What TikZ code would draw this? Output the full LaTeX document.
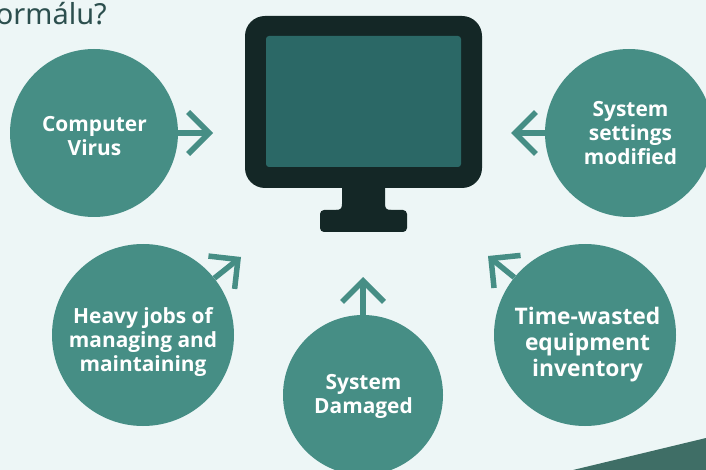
\documentclass[tikz,border=0pt]{standalone}
\usepackage{fontspec}
\setmainfont{Noto Sans}
\newfontfamily\bubblefont{Open Sans}[BoldFont={* Bold}]
\usetikzlibrary{arrows.meta}
\definecolor{bgc}{HTML}{EDF6F6}
\definecolor{teal1}{HTML}{468E85}
\definecolor{dark1}{HTML}{142726}
\definecolor{screen1}{HTML}{2B6866}
\definecolor{corner1}{HTML}{3F6E66}
\definecolor{title1}{HTML}{2C4F4E}
\tikzset{
  bubble/.style={circle,fill=teal1,inner sep=0pt},
  bubbletext/.style={text=white,inner sep=0pt,align=center,font=\bubblefont\bfseries\fontsize{20.9}{24}\selectfont},
  bigtext/.style={text=white,inner sep=0pt,align=center,font=\bubblefont\bfseries\fontsize{22.8}{26}\selectfont},
  link/.style={draw=teal1,line width=5.5pt,-{Straight Barb[length=21pt,width=42pt,line width=5.5pt]}}
}
\begin{document}
\begin{tikzpicture}[x=1pt,y=-1pt]
\useasboundingbox (0,0) rectangle (706,470);
\fill[bgc] (0,0) rectangle (706,470);
\fill[corner1] (573,470) -- (706,438) -- (706,470) -- cycle;
\node[anchor=base east,text=title1,font=\fontsize{29}{32}\selectfont,inner sep=0pt] (title) at (107,25) {ormálu?};
% monitor
\fill[dark1,rounded corners=20pt] (245,16) rectangle (482,188);
\fill[dark1] (342,180) -- (342,204) .. controls (342,209) and (340,210) .. (336,210)
  -- (391,210) .. controls (387,210) and (385,209) .. (385,204) -- (385,180) -- cycle;
\fill[dark1,rounded corners=4pt] (320,210) rectangle (407,232);
\node[fill=screen1,rounded corners=3pt,minimum width=195pt,minimum height=131pt,inner sep=0pt] (screen) at (363.5,101.5) {};
% arrow ends
\coordinate (t1) at (213,133);
\coordinate (t2) at (511,133);
\coordinate (t3) at (241,257);
\coordinate (t4) at (363,277);
\coordinate (t5) at (488,256);
% circles
\node[bubble,minimum size=168pt] (virus) at (94,133) {};
\node[bubble,minimum size=168pt] (settings) at (629,133) {};
\node[bubble,minimum size=182pt] (heavy) at (143,335) {};
\node[bubble,minimum size=160pt] (damaged) at (363,395) {};
\node[bubble,minimum size=182pt] (time) at (585,335) {};
\node[bubbletext] (virustext) at (94.5,136) {Computer\\Virus};
\node[bubbletext] (settingstext) at (630.5,133) {System\\settings\\modified};
\node[bubbletext] (heavytext) at (143,342) {Heavy jobs of\\managing and\\maintaining};
\node[bubbletext] (damagedtext) at (363.5,396) {System\\Damaged};
\node[bigtext] (timetext) at (587.5,345) {Time-wasted\\equipment\\inventory};
\draw[link] (virus) -- (t1);
\draw[link] (settings) -- (t2);
\draw[link] (heavy) -- (t3);
\draw[link] (damaged) -- (t4);
\draw[link] (time) -- (t5);
\end{tikzpicture}
\end{document}
